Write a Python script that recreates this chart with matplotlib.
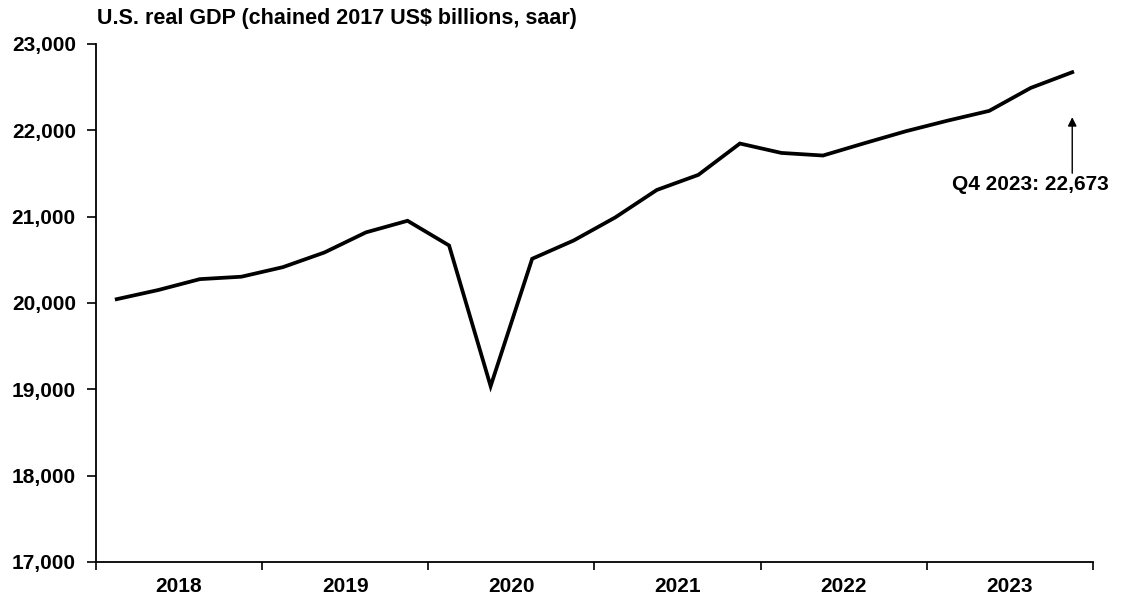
import matplotlib
matplotlib.use("Agg")
import matplotlib.pyplot as plt
from matplotlib.ticker import FuncFormatter

# Quarterly U.S. real GDP, chained 2017 dollars (billions, SAAR)
years = ["2018", "2019", "2020", "2021", "2022", "2023"]
gdp = [
    20044, 20150, 20276, 20304,   # 2018
    20415, 20585, 20818, 20952,   # 2019
    20666, 19036, 20512, 20724,   # 2020
    20991, 21309, 21484, 21847,   # 2021
    21738, 21708, 21851, 21990,   # 2022
    22112, 22225, 22491, 22673,   # 2023
]
last_label = "Q4 2023"
y_ticks = [17000, 18000, 19000, 20000, 21000, 22000, 23000]

plt.rcParams["font.family"] = ["Liberation Sans", "DejaVu Sans"]
plt.rcParams["font.weight"] = "bold"

fig = plt.figure(figsize=(11.33, 6.01), dpi=100)
ax = fig.add_axes([0.0847, 0.065, 0.88, 0.8618])

x = [i + 0.5 for i in range(len(gdp))]
ax.plot(x, gdp, color="black", lw=2.7, solid_joinstyle="miter")

ax.set_xlim(0, len(gdp))
ax.set_ylim(y_ticks[0], y_ticks[-1])

# Year boundaries as major ticks, year names centred between them
ax.set_xticks(range(0, len(gdp) + 1, 4))
ax.set_xticklabels([])
ax.set_xticks([4 * i + 2 for i in range(len(years))], minor=True)
ax.set_xticklabels(years, minor=True, fontsize=15, fontweight="bold")
ax.tick_params(axis="x", which="minor", length=0, pad=11)
ax.tick_params(axis="x", which="major", length=6, width=1.2, direction="out")

ax.set_yticks(y_ticks)
ax.yaxis.set_major_formatter(FuncFormatter(lambda v, p: f"{v:,.0f}"))
ax.tick_params(axis="y", length=6.5, width=1.2, direction="out", labelsize=15, pad=8)
for lab in ax.get_yticklabels():
    lab.set_fontweight("bold")

for side in ["top", "right"]:
    ax.spines[side].set_visible(False)
for side in ["left", "bottom"]:
    ax.spines[side].set_linewidth(1.3)

fig.text(0.0856, 0.970, "U.S. real GDP (chained 2017 US$ billions, saar)",
         fontsize=15.5, fontweight="bold", ha="left", va="center")

# Arrow pointing to the latest quarter, with its value underneath
last_x, last_v = x[-1], gdp[-1]
ax.annotate("", xy=(last_x, last_v), xytext=(0, -101 * 0.72),
            textcoords="offset points",
            arrowprops=dict(arrowstyle="-|>", color="black", lw=1.0,
                            shrinkA=0, shrinkB=45 * 0.72,
                            mutation_scale=13))
ax.annotate(f"{last_label}: {last_v:,.0f}", xy=(last_x, last_v),
            xytext=(-42 * 0.72, -112 * 0.72), textcoords="offset points",
            ha="center", va="center", fontsize=15, fontweight="bold")

fig.savefig("out.png", dpi=100)
